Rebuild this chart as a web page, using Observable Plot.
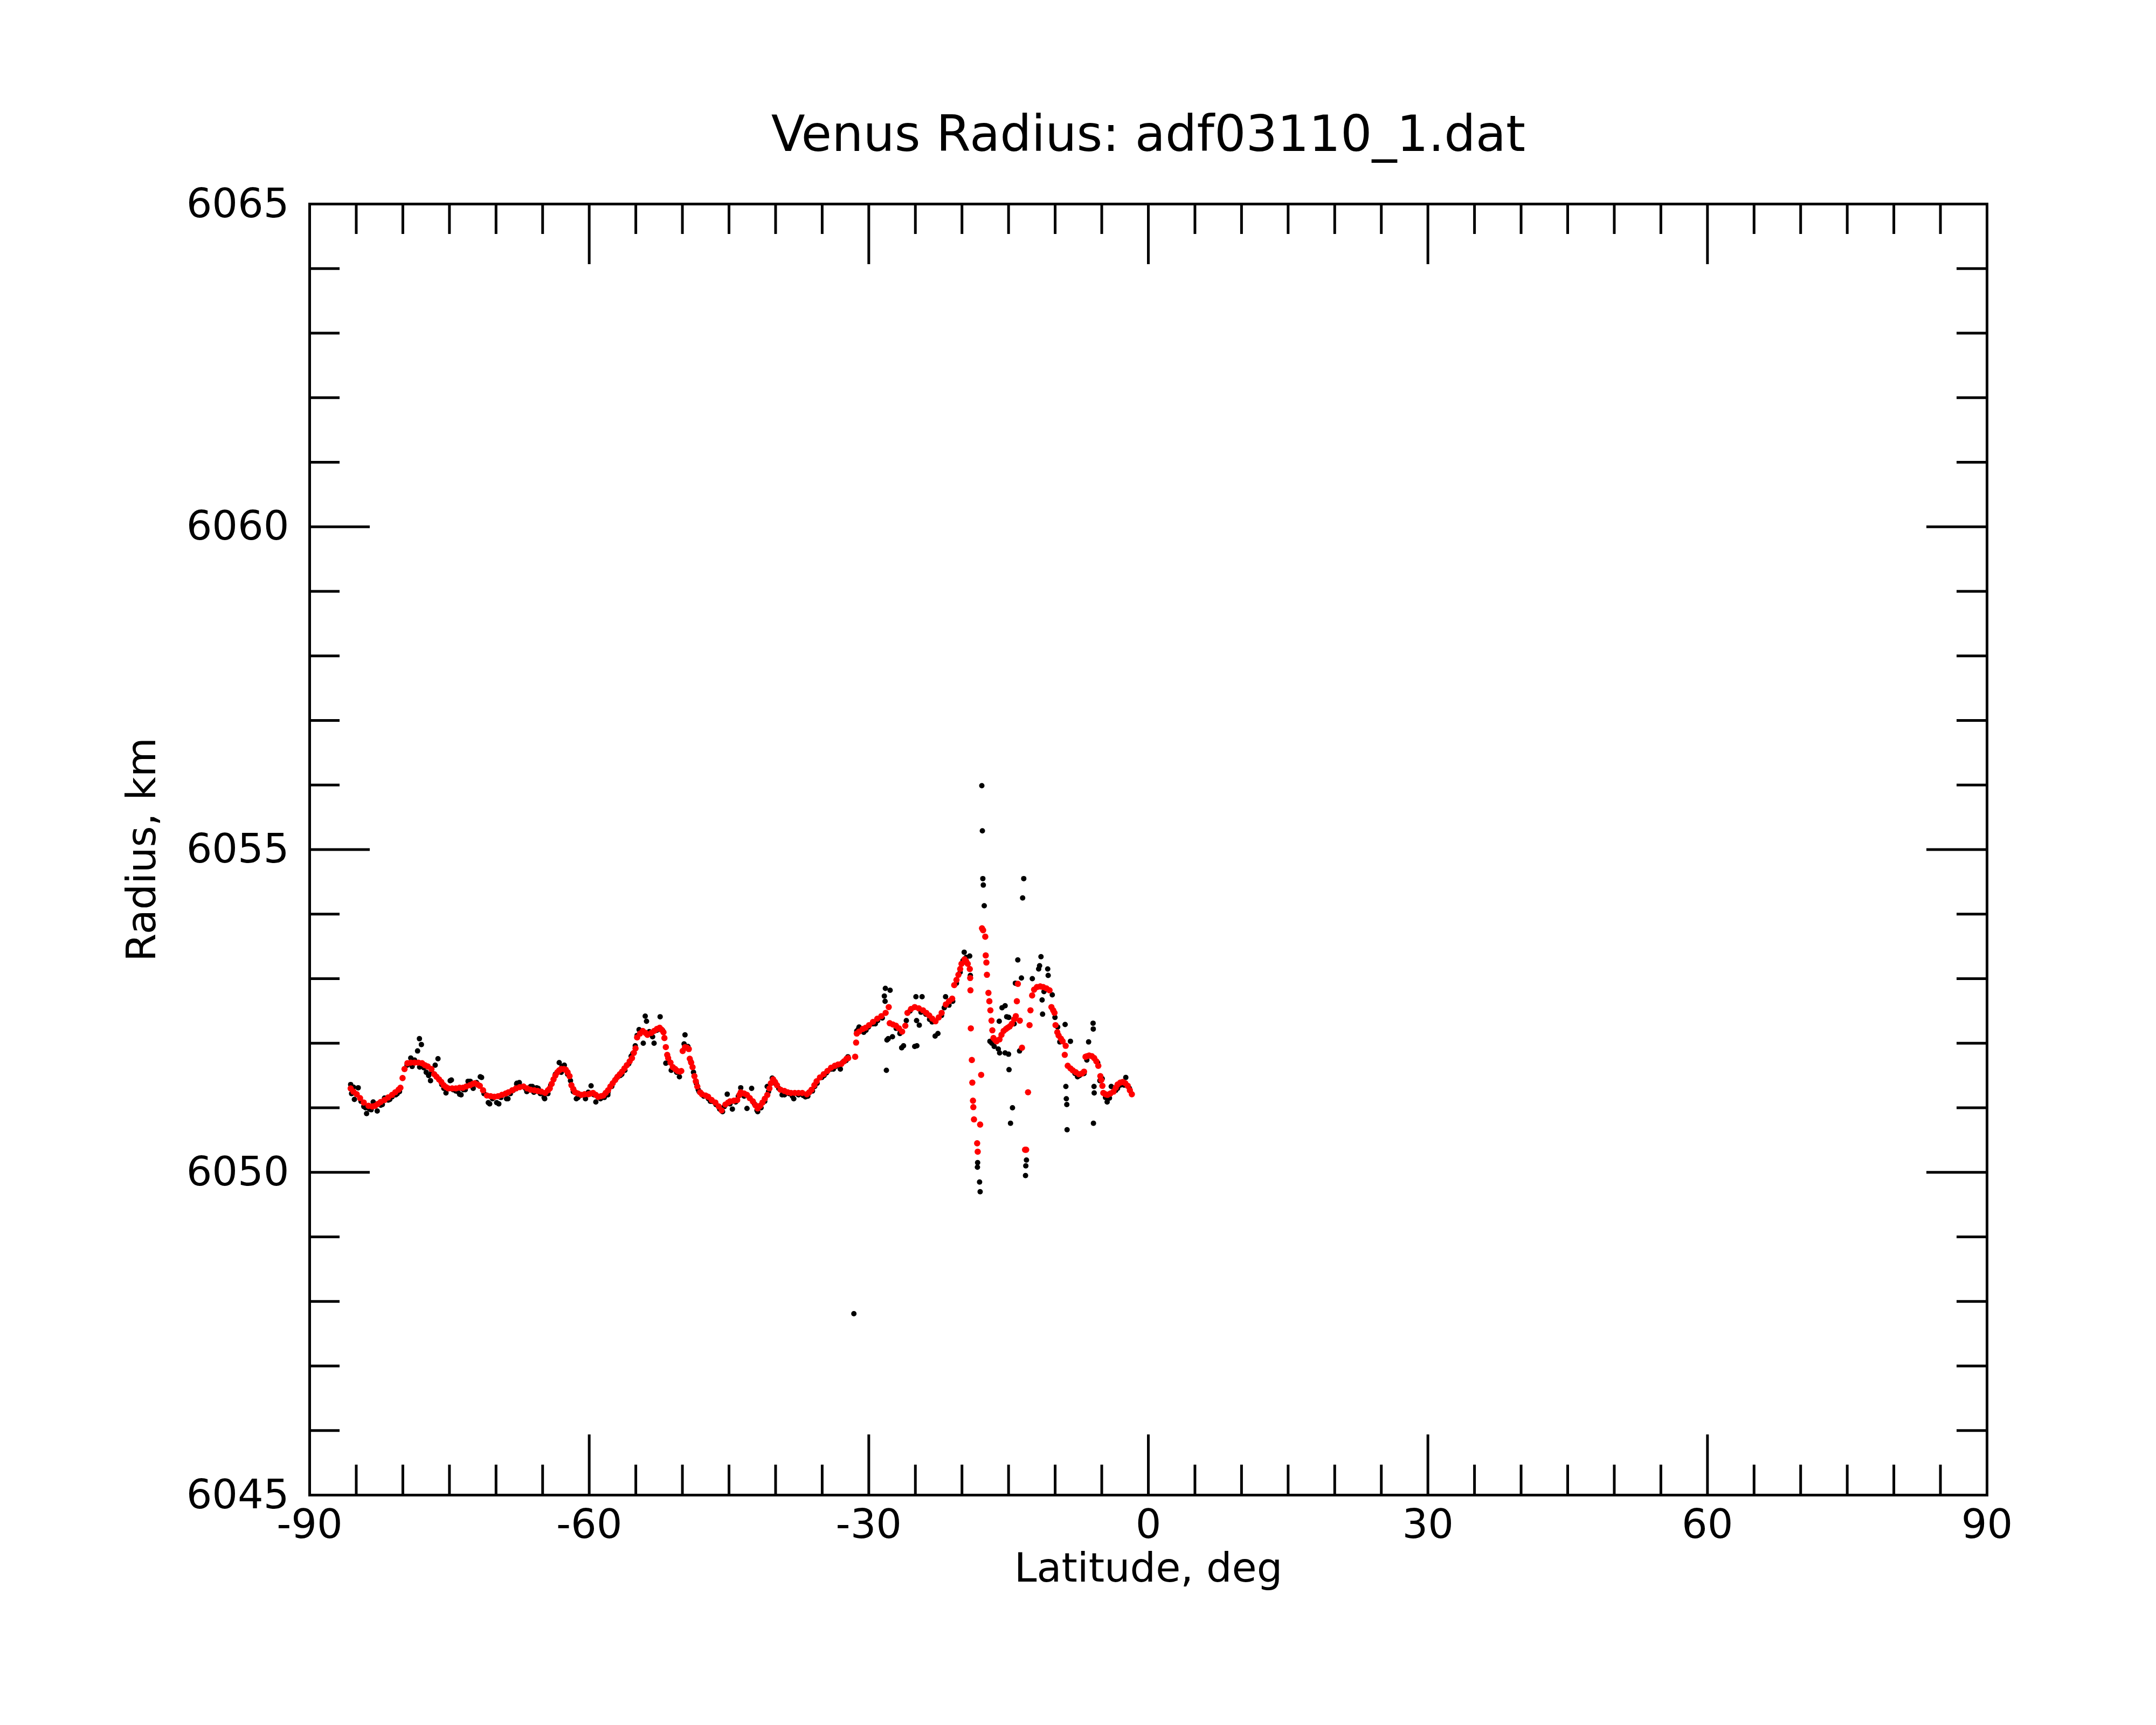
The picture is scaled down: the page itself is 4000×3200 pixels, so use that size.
<!DOCTYPE html>
<html>
<head>
<meta charset="utf-8">
<script src="https://cdn.jsdelivr.net/npm/d3@7"></script>
<script src="https://cdn.jsdelivr.net/npm/@observablehq/plot@0.6"></script>
<style>
  html, body { margin: 0; padding: 0; background: #fff; }
</style>
</head>
<body>
<div id="chart"></div>
<script>
const titleText = "Venus Radius: adf03110_1.dat";
const xLabelText = "Latitude, deg";
const yLabelText = "Radius, km";

const xTickLabels = [-90, -60, -30, 0, 30, 60, 90];
const xMinorTicks = [-85, -80, -75, -70, -65, -55, -50, -45, -40, -35, -25, -20, -15, -10, -5, 5, 10, 15, 20, 25, 35, 40, 45, 50, 55, 65, 70, 75, 80, 85];
const xMajorTicks = [-60, -30, 0, 30, 60];
const yTickLabels = [6045, 6050, 6055, 6060, 6065];
const yMinorTicks = [6046, 6047, 6048, 6049, 6051, 6052, 6053, 6054, 6056, 6057, 6058, 6059, 6061, 6062, 6063, 6064];
const yMajorTicks = [6050, 6055, 6060];

// smoothed radius (red): [latitude, radius]
const redSeries = [
  [-85.6, 6051.30], [-85.3, 6051.25], [-84.95, 6051.21], [-84.59, 6051.15], [-84.19, 6051.08],
  [-83.68, 6051.03], [-83.28, 6051.02], [-82.98, 6051.03], [-82.68, 6051.06], [-82.37, 6051.09],
  [-81.97, 6051.12], [-81.57, 6051.16], [-81.16, 6051.20], [-80.81, 6051.24], [-80.46, 6051.28],
  [-80.26, 6051.31], [-80.03, 6051.46], [-79.82, 6051.60], [-79.51, 6051.69], [-79.15, 6051.70],
  [-78.75, 6051.70], [-78.34, 6051.70], [-77.94, 6051.69], [-77.64, 6051.66], [-77.33, 6051.64],
  [-76.93, 6051.60], [-76.63, 6051.52], [-76.38, 6051.48], [-76.12, 6051.44], [-75.87, 6051.40],
  [-75.62, 6051.35], [-75.37, 6051.32], [-75.12, 6051.30], [-74.71, 6051.30], [-74.31, 6051.30],
  [-73.91, 6051.31], [-73.55, 6051.31], [-73.20, 6051.33], [-72.80, 6051.35], [-72.50, 6051.37],
  [-72.29, 6051.38], [-71.99, 6051.36], [-71.74, 6051.34], [-71.39, 6051.27], [-70.98, 6051.19],
  [-70.58, 6051.18], [-70.18, 6051.17], [-69.77, 6051.18], [-69.37, 6051.20], [-68.97, 6051.22],
  [-68.67, 6051.24], [-68.26, 6051.27], [-67.86, 6051.30], [-67.46, 6051.32], [-67.05, 6051.33],
  [-66.65, 6051.30], [-66.30, 6051.28], [-65.89, 6051.27], [-65.52, 6051.26], [-65.14, 6051.25],
  [-64.73, 6051.23], [-64.43, 6051.27], [-64.23, 6051.30], [-64.03, 6051.37], [-63.83, 6051.44],
  [-63.63, 6051.50], [-63.42, 6051.55], [-63.22, 6051.58], [-63.02, 6051.60], [-62.72, 6051.60],
  [-62.52, 6051.59], [-62.32, 6051.55], [-62.11, 6051.49], [-61.91, 6051.35], [-61.71, 6051.29],
  [-61.51, 6051.24], [-61.21, 6051.22], [-60.85, 6051.20], [-60.50, 6051.21], [-60.10, 6051.21],
  [-59.85, 6051.22], [-59.59, 6051.23], [-59.29, 6051.20], [-59.04, 6051.17], [-58.74, 6051.18],
  [-58.48, 6051.19], [-58.23, 6051.23], [-57.98, 6051.27], [-57.73, 6051.33], [-57.48, 6051.38],
  [-57.22, 6051.43], [-56.97, 6051.48], [-56.72, 6051.52], [-56.47, 6051.56], [-56.22, 6051.61],
  [-55.96, 6051.66], [-55.66, 6051.72], [-55.41, 6051.77], [-55.21, 6051.85], [-55.03, 6051.92],
  [-54.86, 6052.09], [-54.55, 6052.15], [-54.25, 6052.19], [-53.95, 6052.16], [-53.75, 6052.13],
  [-53.34, 6052.16], [-53.04, 6052.19], [-52.74, 6052.22], [-52.44, 6052.24], [-52.24, 6052.21],
  [-52.03, 6052.17], [-51.93, 6052.08], [-51.78, 6051.94], [-51.63, 6051.82], [-51.53, 6051.77],
  [-51.28, 6051.70], [-51.03, 6051.63], [-50.77, 6051.60], [-50.52, 6051.57], [-50.27, 6051.56],
  [-50.12, 6051.57], [-49.97, 6051.88], [-49.72, 6051.94], [-49.51, 6051.93], [-49.31, 6051.91],
  [-49.21, 6051.76], [-49.06, 6051.70], [-48.91, 6051.63], [-48.71, 6051.49], [-48.56, 6051.41],
  [-48.40, 6051.33], [-48.10, 6051.24], [-47.90, 6051.21], [-47.51, 6051.19], [-47.24, 6051.17],
  [-46.86, 6051.12], [-46.46, 6051.08], [-46.10, 6051.02], [-45.79, 6050.96], [-45.39, 6051.05],
  [-45.09, 6051.08], [-44.89, 6051.10], [-44.48, 6051.11], [-44.12, 6051.12], [-43.88, 6051.20],
  [-43.74, 6051.24], [-43.37, 6051.22], [-43.07, 6051.20], [-42.77, 6051.15], [-42.44, 6051.10],
  [-42.17, 6051.04], [-41.92, 6050.99], [-41.66, 6051.03], [-41.41, 6051.08], [-41.16, 6051.14],
  [-40.89, 6051.20], [-40.66, 6051.30], [-40.51, 6051.38], [-40.26, 6051.44], [-40.06, 6051.40],
  [-39.85, 6051.35], [-39.47, 6051.28], [-39.05, 6051.26], [-38.70, 6051.24], [-38.35, 6051.23],
  [-37.94, 6051.23], [-37.54, 6051.23], [-37.14, 6051.23], [-36.64, 6051.21], [-36.39, 6051.24],
  [-36.14, 6051.28], [-35.84, 6051.35], [-35.60, 6051.41], [-35.24, 6051.47], [-34.84, 6051.52],
  [-34.44, 6051.57], [-34.05, 6051.62], [-33.65, 6051.65], [-33.30, 6051.67], [-32.95, 6051.68],
  [-32.66, 6051.72], [-32.39, 6051.76], [-32.21, 6051.77], [-31.46, 6051.79], [-31.36, 6052.01],
  [-31.29, 6052.15], [-31.04, 6052.18], [-30.65, 6052.22], [-30.34, 6052.24], [-29.97, 6052.28],
  [-29.55, 6052.33], [-29.09, 6052.38], [-28.65, 6052.42], [-28.19, 6052.47], [-27.86, 6052.56],
  [-27.75, 6052.31], [-27.41, 6052.29], [-27.08, 6052.27], [-26.76, 6052.23], [-26.42, 6052.18],
  [-26.08, 6052.27], [-25.85, 6052.47], [-25.47, 6052.53], [-25.07, 6052.56], [-24.63, 6052.54],
  [-24.18, 6052.51], [-23.83, 6052.47], [-23.51, 6052.43], [-23.18, 6052.38], [-22.84, 6052.34],
  [-22.49, 6052.40], [-22.18, 6052.47], [-21.73, 6052.60], [-21.39, 6052.65], [-21.05, 6052.69],
  [-20.83, 6052.90], [-20.59, 6052.98], [-20.38, 6053.06], [-20.19, 6053.15], [-20.05, 6053.23],
  [-19.72, 6053.30], [-19.55, 6053.27], [-19.38, 6053.23], [-19.16, 6053.15], [-19.12, 6053.01],
  [-19.09, 6052.82], [-19.05, 6052.23], [-18.94, 6051.74], [-18.89, 6051.39], [-18.82, 6051.11],
  [-18.78, 6051.01], [-18.71, 6050.82], [-18.37, 6050.45], [-18.31, 6050.32], [-18.05, 6050.74],
  [-17.94, 6051.51], [-17.85, 6053.78], [-17.73, 6053.75], [-17.50, 6053.65], [-17.45, 6053.36],
  [-17.38, 6053.25], [-17.32, 6053.06], [-17.16, 6052.78], [-17.06, 6052.65], [-16.95, 6052.51],
  [-16.83, 6052.35], [-16.74, 6052.20], [-16.62, 6052.08], [-16.44, 6052.05], [-16.29, 6052.03],
  [-15.97, 6052.06], [-15.76, 6052.13], [-15.53, 6052.19], [-15.28, 6052.22], [-15.09, 6052.24],
  [-14.88, 6052.26], [-14.65, 6052.30], [-14.40, 6052.37], [-14.22, 6052.42], [-14.11, 6052.65],
  [-14.00, 6052.92], [-13.79, 6052.35], [-13.56, 6051.93], [-13.23, 6050.35], [-13.11, 6050.35],
  [-12.91, 6051.24], [-12.75, 6052.28], [-12.65, 6052.51], [-12.47, 6052.74], [-12.26, 6052.83],
  [-11.96, 6052.87], [-11.60, 6052.88], [-11.28, 6052.87], [-10.94, 6052.85], [-10.60, 6052.82],
  [-10.40, 6052.56], [-10.21, 6052.51], [-10.07, 6052.47], [-9.96, 6052.28], [-9.77, 6052.17],
  [-9.63, 6052.12], [-9.38, 6052.07], [-9.20, 6052.03], [-8.87, 6051.96], [-8.97, 6051.82],
  [-8.65, 6051.65], [-8.36, 6051.61], [-8.11, 6051.58], [-7.78, 6051.55], [-7.45, 6051.52],
  [-7.14, 6051.53], [-6.90, 6051.56], [-6.74, 6051.79], [-6.56, 6051.80], [-6.35, 6051.81],
  [-6.07, 6051.80], [-5.81, 6051.77], [-5.58, 6051.72], [-5.37, 6051.65], [-5.15, 6051.49],
  [-5.05, 6051.43], [-4.93, 6051.34], [-4.83, 6051.23], [-4.61, 6051.21], [-4.39, 6051.20],
  [-4.08, 6051.22], [-3.74, 6051.25], [-3.50, 6051.31], [-3.30, 6051.36], [-3.01, 6051.39],
  [-2.75, 6051.40], [-2.47, 6051.38], [-2.21, 6051.34], [-1.98, 6051.27], [-1.77, 6051.21]
];

// raw radius (black): [latitude, radius]
const blackSeries = [
  [-85.6, 6051.36], [-85.5, 6051.22], [-85.3, 6051.32], [-85.2, 6051.13], [-84.79, 6051.31],
  [-84.49, 6051.10], [-84.19, 6051.02], [-83.89, 6050.91], [-83.58, 6050.98], [-83.18, 6051.09],
  [-82.75, 6050.95], [-82.37, 6051.04], [-81.97, 6051.15], [-81.57, 6051.12], [-81.16, 6051.17],
  [-80.76, 6051.20], [-80.36, 6051.25], [-79.55, 6051.66], [-79.15, 6051.77], [-78.75, 6051.74],
  [-78.42, 6051.88], [-78.22, 6052.07], [-78.01, 6051.98], [-77.74, 6051.62], [-77.49, 6051.55],
  [-77.23, 6051.50], [-77.03, 6051.42], [-76.53, 6051.66], [-76.23, 6051.76], [-75.82, 6051.36],
  [-75.37, 6051.23], [-74.92, 6051.42], [-74.61, 6051.28], [-74.31, 6051.26], [-73.91, 6051.21],
  [-73.50, 6051.28], [-73.00, 6051.41], [-72.70, 6051.38], [-72.45, 6051.30], [-72.09, 6051.39],
  [-71.69, 6051.48], [-71.29, 6051.22], [-70.83, 6051.08], [-70.38, 6051.14], [-69.93, 6051.08],
  [-69.47, 6051.16], [-68.87, 6051.14], [-68.46, 6051.22], [-68.16, 6051.27], [-67.76, 6051.38],
  [-67.36, 6051.33], [-66.85, 6051.30], [-66.30, 6051.33], [-65.94, 6051.24], [-65.64, 6051.31],
  [-65.24, 6051.22], [-64.84, 6051.16], [-64.43, 6051.22], [-64.13, 6051.35], [-63.63, 6051.52],
  [-63.22, 6051.70], [-62.92, 6051.64], [-62.67, 6051.66], [-62.32, 6051.52], [-62.01, 6051.42],
  [-61.71, 6051.25], [-61.38, 6051.14], [-61.00, 6051.19], [-60.40, 6051.14], [-60.10, 6051.24],
  [-59.80, 6051.34], [-59.49, 6051.20], [-59.29, 6051.09], [-58.79, 6051.14], [-58.38, 6051.16],
  [-57.98, 6051.24], [-57.58, 6051.33], [-57.07, 6051.46], [-56.67, 6051.50], [-56.17, 6051.58],
  [-55.76, 6051.68], [-55.33, 6051.84], [-55.06, 6051.96], [-54.86, 6052.12], [-54.65, 6052.21],
  [-54.20, 6052.00], [-53.99, 6052.42], [-53.85, 6052.34], [-53.55, 6052.18], [-53.04, 6052.00],
  [-52.74, 6052.20], [-52.39, 6052.41], [-52.13, 6052.20], [-51.78, 6051.69], [-51.43, 6051.72],
  [-51.03, 6051.62], [-50.62, 6051.55], [-50.32, 6051.48], [-49.82, 6051.99], [-49.72, 6052.13],
  [-49.41, 6051.95], [-49.11, 6051.72], [-48.81, 6051.55], [-48.51, 6051.38], [-48.21, 6051.25],
  [-47.71, 6051.18], [-47.21, 6051.14], [-46.80, 6051.10], [-46.40, 6051.05], [-46.00, 6050.98],
  [-45.69, 6050.94], [-45.19, 6051.21], [-44.89, 6051.06], [-44.64, 6050.98], [-44.28, 6051.09],
  [-43.74, 6051.31], [-43.37, 6051.18], [-43.07, 6050.99], [-42.57, 6051.30], [-42.27, 6051.06],
  [-41.92, 6050.94], [-41.56, 6051.00], [-41.16, 6051.10], [-40.76, 6051.25], [-40.36, 6051.46],
  [-40.06, 6051.38], [-39.66, 6051.30], [-39.05, 6051.20], [-38.55, 6051.22], [-38.05, 6051.14],
  [-37.54, 6051.20], [-37.04, 6051.19], [-36.54, 6051.18], [-36.04, 6051.26], [-35.54, 6051.38],
  [-35.04, 6051.47], [-34.54, 6051.54], [-34.05, 6051.60], [-33.55, 6051.64], [-33.05, 6051.60],
  [-32.84, 6051.70], [-32.44, 6051.73], [-32.24, 6051.79], [-31.29, 6052.19], [-31.10, 6052.22],
  [-31.04, 6052.25], [-31.6, 6047.81], [-30.54, 6052.17], [-30.04, 6052.25], [-29.55, 6052.30],
  [-29.05, 6052.35], [-28.55, 6052.39], [-28.33, 6052.73], [-28.25, 6052.65], [-28.22, 6052.85],
  [-28.11, 6051.58], [-28.05, 6052.05], [-27.91, 6052.07], [-27.71, 6052.82], [-27.46, 6052.10],
  [-27.06, 6052.23], [-26.66, 6052.15], [-26.47, 6051.93], [-26.27, 6051.96], [-25.97, 6052.35],
  [-25.57, 6052.50], [-25.07, 6051.95], [-24.94, 6052.72], [-24.84, 6051.96], [-24.87, 6052.35],
  [-24.58, 6052.28], [-24.28, 6052.72], [-23.88, 6052.45], [-23.48, 6052.37], [-22.88, 6052.11],
  [-22.58, 6052.15], [-22.19, 6052.43], [-21.76, 6052.72], [-21.39, 6052.59], [-20.99, 6052.65],
  [-20.59, 6052.93], [-20.19, 6053.10], [-19.89, 6053.28], [-19.76, 6053.41], [-19.55, 6053.33],
  [-19.17, 6053.35], [-19.10, 6053.05], [-18.34, 6050.08], [-18.32, 6050.15], [-18.11, 6049.85],
  [-18.05, 6049.70], [-17.87, 6055.99], [-17.81, 6055.29], [-17.76, 6054.55], [-17.71, 6054.45],
  [-17.61, 6054.13], [-17.0, 6052.03], [-16.54, 6051.95], [-16.1, 6051.91], [-15.96, 6051.85],
  [-15.7, 6052.55], [-16.0, 6052.34], [-15.2, 6052.41], [-15.37, 6051.85], [-15.0, 6051.83],
  [-14.95, 6051.59], [-15.37, 6052.58], [-14.98, 6052.40], [-14.79, 6050.76], [-14.58, 6051.00],
  [-14.27, 6052.93], [-14.01, 6053.29], [-13.82, 6051.88], [-13.62, 6053.01], [-13.49, 6054.25],
  [-13.37, 6054.55], [-13.18, 6049.95], [-13.15, 6050.10], [-13.08, 6050.19], [-12.45, 6053.00],
  [-11.77, 6053.15], [-11.67, 6053.20], [-11.52, 6053.34], [-11.4, 6052.67], [-11.35, 6052.45],
  [-10.80, 6053.15], [-10.75, 6053.05], [-10.31, 6052.75], [-10.02, 6052.40], [-9.73, 6052.25],
  [-8.93, 6052.29], [-8.85, 6051.33], [-8.80, 6051.14], [-8.75, 6051.05], [-8.72, 6050.66],
  [-8.36, 6052.03], [-7.87, 6051.53], [-7.39, 6051.50], [-6.90, 6051.53], [-6.41, 6052.02],
  [-5.93, 6052.31], [-5.91, 6052.22], [-5.89, 6050.76], [-5.83, 6051.33], [-5.81, 6051.23],
  [-5.44, 6051.70], [-4.95, 6051.45], [-4.42, 6051.09], [-4.17, 6051.15], [-3.98, 6051.33],
  [-3.50, 6051.27], [-3.01, 6051.35], [-2.42, 6051.47], [-2.03, 6051.30],
  [-84.0, 6051.00], [-83.4, 6050.97], [-82.2, 6051.05], [-81.4, 6051.13], [-80.6, 6051.22],
  [-79.0, 6051.64], [-78.2, 6051.63], [-76.9, 6051.55], [-75.6, 6051.30], [-74.79, 6051.43],
  [-74.1, 6051.25], [-73.75, 6051.20], [-73.3, 6051.28], [-72.77, 6051.41], [-71.55, 6051.47],
  [-70.68, 6051.06], [-69.7, 6051.06], [-68.72, 6051.14], [-67.79, 6051.37], [-67.5, 6051.39],
  [-66.7, 6051.25], [-66.1, 6051.33], [-65.48, 6051.30], [-64.78, 6051.14], [-63.0, 6051.55],
  [-61.2, 6051.16], [-58.0, 6051.20], [-56.5, 6051.52], [-55.5, 6051.80], [-53.2, 6052.10],
  [-51.2, 6051.58], [-48.3, 6051.28], [-47.0, 6051.10], [-45.5, 6051.02], [-44.0, 6051.18],
  [-42.0, 6050.96], [-40.9, 6051.33], [-39.3, 6051.20], [-38.2, 6051.18], [-36.8, 6051.17],
  [-35.8, 6051.33], [-34.8, 6051.50], [-33.8, 6051.60], [-30.3, 6052.20], [-29.3, 6052.30],
  [-26.6, 6052.18], [-24.4, 6052.48], [-23.2, 6052.33], [-21.9, 6052.55], [-19.9, 6053.25],
  [-16.8, 6052.00], [-14.4, 6052.30], [-11.2, 6052.80], [-9.5, 6052.02], [-7.6, 6051.48],
  [-6.6, 6051.74], [-5.2, 6051.42], [-4.6, 6051.16], [-3.3, 6051.30], [-2.6, 6051.35]
];

const font = "DejaVu Sans";
const W = 4000, H = 3200;
const mL = 574, mR = 314, mT = 378, mB = 427;
const frameW = W - mL - mR, frameH = H - mT - mB;
const minorLen = 56, majorLen = 112, tickW = 5;

const red = redSeries.map(([lat, r]) => ({lat, r}));
const black = blackSeries.map(([lat, r]) => ({lat, r}));

const chart = Plot.plot({
  width: W,
  height: H,
  marginLeft: mL,
  marginRight: mR,
  marginTop: mT,
  marginBottom: mB,
  style: {fontFamily: font, background: "white", color: "black"},
  x: {domain: [-90, 90], axis: null},
  y: {domain: [6045, 6065], axis: null},
  marks: [
    Plot.dot(black, {x: "lat", y: "r", r: 5, fill: "black", stroke: null}),
    Plot.dot(red, {x: "lat", y: "r", r: 5.8, fill: "#ff0000", stroke: null}),
    // bottom & top ticks (inward)
    Plot.tickX(xMinorTicks, {x: d => d, insetTop: frameH - minorLen, stroke: "black", strokeWidth: tickW}),
    Plot.tickX(xMinorTicks, {x: d => d, insetBottom: frameH - minorLen, stroke: "black", strokeWidth: tickW}),
    Plot.tickX(xMajorTicks, {x: d => d, insetTop: frameH - majorLen, stroke: "black", strokeWidth: tickW}),
    Plot.tickX(xMajorTicks, {x: d => d, insetBottom: frameH - majorLen, stroke: "black", strokeWidth: tickW}),
    // left & right ticks (inward)
    Plot.tickY(yMinorTicks, {y: d => d, insetRight: frameW - minorLen, stroke: "black", strokeWidth: tickW}),
    Plot.tickY(yMinorTicks, {y: d => d, insetLeft: frameW - minorLen, stroke: "black", strokeWidth: tickW}),
    Plot.tickY(yMajorTicks, {y: d => d, insetRight: frameW - majorLen, stroke: "black", strokeWidth: tickW}),
    Plot.tickY(yMajorTicks, {y: d => d, insetLeft: frameW - majorLen, stroke: "black", strokeWidth: tickW}),
    Plot.frame({stroke: "black", strokeWidth: tickW}),
    Plot.axisX(xTickLabels, {anchor: "bottom", tickSize: 0, tickPadding: 26, fontSize: 75, tickFormat: d => String(d), label: null, fill: "black"}),
    Plot.axisY(yTickLabels, {anchor: "left", tickSize: 0, tickPadding: 38, fontSize: 75, tickFormat: d => String(d), label: null, fill: "black"}),
    Plot.text([titleText], {frameAnchor: "top", dy: -128, fontSize: 92, textAnchor: "middle", lineAnchor: "middle", text: d => d, fill: "black"}),
    Plot.text([xLabelText], {frameAnchor: "bottom", dy: 136, fontSize: 75, textAnchor: "middle", lineAnchor: "middle", text: d => d, fill: "black"}),
    Plot.text([yLabelText], {frameAnchor: "left", dx: -311, rotate: -90, fontSize: 75, textAnchor: "middle", lineAnchor: "middle", text: d => d, fill: "black"})
  ]
});
document.getElementById("chart").appendChild(chart);
</script>
</body>
</html>
